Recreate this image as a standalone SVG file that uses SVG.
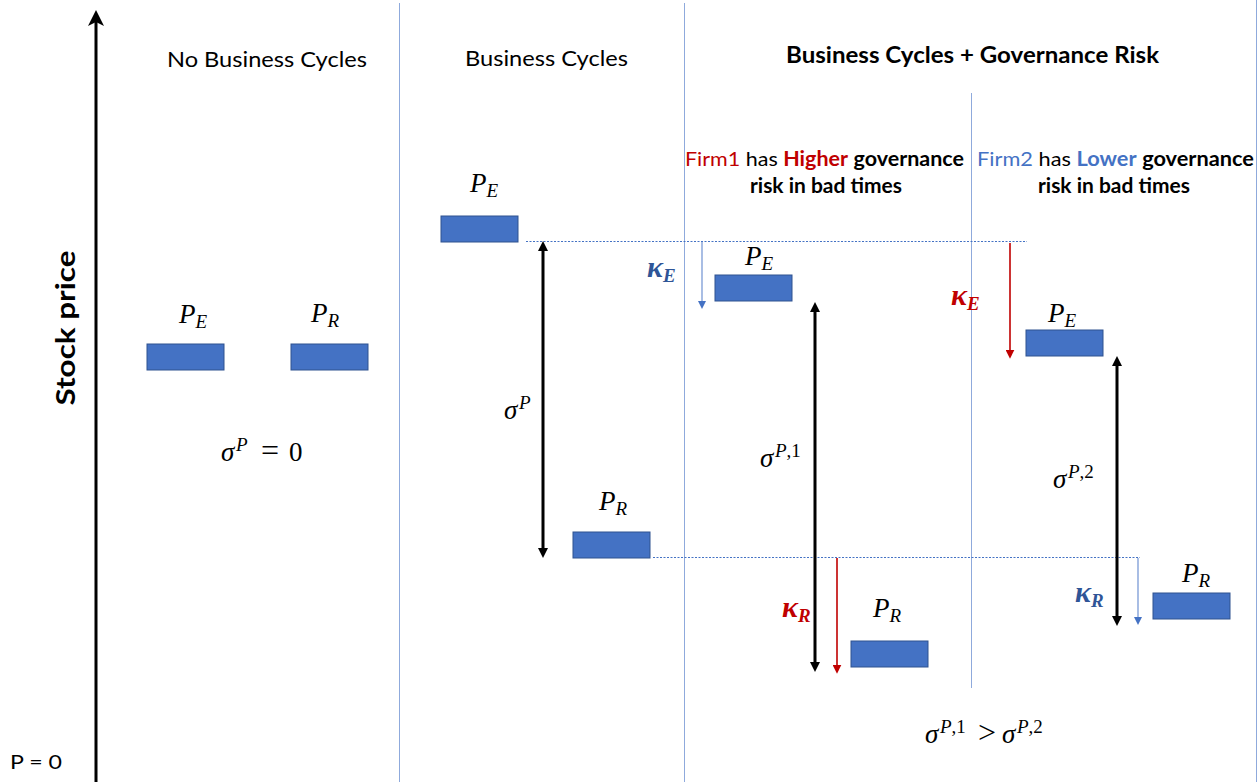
<svg xmlns="http://www.w3.org/2000/svg" width="1259" height="782" viewBox="0 0 1259 782">
<style>
.t{font-family:"Lato","Liberation Sans",sans-serif;fill:#000}
.h{font-size:22px}
.b{font-weight:bold}
.f{font-size:20px}
.m{font-family:"Liberation Serif","DejaVu Serif",serif;font-style:italic;font-size:27px;fill:#000}
.n{font-style:normal}
.s{font-size:19px}
.k{font-weight:bold;font-size:30px}
.red{fill:#C00000}
.dk{fill:#2F5597}
.lb{fill:#4472C4}
.bar{fill:#4472C4;stroke:#2F528F;stroke-width:1}
.sep{stroke:#8FAADC;stroke-width:1;fill:none}
.dot{stroke:#4472C4;stroke-width:1.2;stroke-dasharray:2 1.5;fill:none}
.thick{stroke:#000;stroke-width:3;fill:none}
.tb{stroke:#6F92D2;stroke-width:1.2;fill:none}
.tr{stroke:#C00000;stroke-width:1.6;fill:none}
</style>
<defs>
<marker id="ax" viewBox="0 0 16 16" refX="6" refY="8" markerWidth="16" markerHeight="16" markerUnits="userSpaceOnUse" orient="auto">
<path d="M0,0 L16,8 L0,16 L4,8 z" fill="#000"/>
</marker>
<marker id="ah" viewBox="0 0 10 10" refX="6" refY="5" markerWidth="10" markerHeight="10" markerUnits="userSpaceOnUse" orient="auto-start-reverse">
<path d="M0,0 L10,5 L0,10 z" fill="#000"/>
</marker>
<marker id="ab" viewBox="0 0 8 8" refX="3" refY="4" markerWidth="8" markerHeight="8" markerUnits="userSpaceOnUse" orient="auto">
<path d="M0,0 L8,4 L0,8 z" fill="#4472C4"/>
</marker>
<marker id="ar" viewBox="0 0 8 8" refX="3" refY="4" markerWidth="9" markerHeight="9" markerUnits="userSpaceOnUse" orient="auto">
<path d="M0,0 L8,4 L0,8 z" fill="#C00000"/>
</marker>
</defs>
<rect width="1259" height="782" fill="#fff"/>

<g id="frame">
<line class="sep" x1="399.5" y1="3" x2="399.5" y2="782"/>
<line class="sep" x1="684.5" y1="3" x2="684.5" y2="782"/>
<line class="sep" x1="971.5" y1="93" x2="971.5" y2="688"/>
<line class="sep" x1="1256.5" y1="0" x2="1256.5" y2="782"/>
<line id="yaxis" class="thick" x1="96" y1="782" x2="96" y2="20" marker-end="url(#ax)"/>
<text class="t b" x="0" y="0" font-size="26" transform="translate(75,328) rotate(-90)" text-anchor="middle" textLength="155" lengthAdjust="spacingAndGlyphs">Stock price</text>
<text class="t" x="10" y="769" font-size="19" textLength="52" lengthAdjust="spacingAndGlyphs">P = 0</text>
</g>

<g id="headers">
<text class="t h" x="167" y="67" textLength="200" lengthAdjust="spacingAndGlyphs">No Business Cycles</text>
<text class="t h" x="465" y="66" textLength="163" lengthAdjust="spacingAndGlyphs">Business Cycles</text>
<text class="t h b" x="786" y="63" textLength="373" lengthAdjust="spacingAndGlyphs">Business Cycles + Governance Risk</text>
<text class="t f" x="685" y="166" textLength="279" lengthAdjust="spacingAndGlyphs"><tspan class="red">Firm1</tspan> has <tspan class="b red">Higher</tspan> <tspan class="b">governance</tspan></text>
<text class="t f b" x="826" y="193" text-anchor="middle" textLength="152" lengthAdjust="spacingAndGlyphs">risk in bad times</text>
<text class="t f" x="977" y="166" textLength="277" lengthAdjust="spacingAndGlyphs"><tspan class="lb">Firm2</tspan> has <tspan class="b lb">Lower</tspan> <tspan class="b">governance</tspan></text>
<text class="t f b" x="1114" y="193" text-anchor="middle" textLength="152" lengthAdjust="spacingAndGlyphs">risk in bad times</text>
</g>

<g id="connectors">
<line class="dot" x1="526" y1="241.5" x2="1027" y2="241.5"/>
<line class="dot" x1="653" y1="557.5" x2="1140" y2="557.5"/>
<line class="thick" x1="543" y1="245" x2="543" y2="554" marker-start="url(#ah)" marker-end="url(#ah)"/>
<line class="thick" x1="815" y1="306" x2="815" y2="668" marker-start="url(#ah)" marker-end="url(#ah)"/>
<line class="thick" x1="1117" y1="360" x2="1117" y2="622" marker-start="url(#ah)" marker-end="url(#ah)"/>
<line class="tb" x1="702" y1="242" x2="702" y2="304" marker-end="url(#ab)"/>
<line class="tr" x1="1010" y1="243" x2="1010" y2="353" marker-end="url(#ar)"/>
<line class="tr" x1="837" y1="558" x2="837" y2="668" marker-end="url(#ar)"/>
<line class="tb" x1="1138" y1="558" x2="1138" y2="620" marker-end="url(#ab)"/>
</g>

<g id="noBC">
<rect class="bar" x="147" y="344" width="77" height="26"/>
<rect class="bar" x="291" y="344" width="77" height="26"/>
<text class="m" x="179" y="323">P<tspan class="s" dy="5">E</tspan></text>
<text class="m" x="311" y="322">P<tspan class="s" dy="5">R</tspan></text>
<text class="m" x="221" y="461">σ<tspan class="s" x="236" dy="-10">P</tspan><tspan class="n" x="261" dy="10" font-size="32">=</tspan><tspan class="n" x="289">0</tspan></text>
</g>

<g id="BC">
<rect class="bar" x="441" y="216" width="77" height="26"/>
<rect class="bar" x="573" y="532" width="77" height="26"/>
<text class="m" x="470" y="192">P<tspan class="s" dy="5">E</tspan></text>
<text class="m" x="599" y="510">P<tspan class="s" dy="5">R</tspan></text>
<text class="m" x="504" y="419">σ<tspan class="s" x="519" dy="-10">P</tspan></text>
</g>

<g id="firm1">
<rect class="bar" x="715" y="275" width="77" height="26"/>
<rect class="bar" x="851" y="641" width="77" height="26"/>
<text class="m" x="745" y="265">P<tspan class="s" dy="5">E</tspan></text>
<text class="m" x="873" y="617">P<tspan class="s" dy="5">R</tspan></text>
<text class="m k dk" x="647" y="277">κ<tspan class="s" dy="5">E</tspan></text>
<text class="m k red" x="782" y="617">κ<tspan class="s" dy="5">R</tspan></text>
<text class="m" x="760" y="467">σ<tspan class="s" x="775" dy="-10">P<tspan class="n">,1</tspan></tspan></text>
</g>

<g id="firm2">
<rect class="bar" x="1026" y="330" width="77" height="26"/>
<rect class="bar" x="1153" y="593" width="77" height="26"/>
<text class="m" x="1048" y="322">P<tspan class="s" dy="5">E</tspan></text>
<text class="m" x="1182" y="582">P<tspan class="s" dy="5">R</tspan></text>
<text class="m k red" x="951" y="305">κ<tspan class="s" dy="5">E</tspan></text>
<text class="m k dk" x="1075" y="602">κ<tspan class="s" dy="5">R</tspan></text>
<text class="m" x="1053" y="488">σ<tspan class="s" x="1068" dy="-10">P<tspan class="n">,2</tspan></tspan></text>
</g>

<g id="compare">
<text class="m" x="925" y="743">σ<tspan class="s" x="940" dy="-10">P<tspan class="n">,1</tspan></tspan><tspan class="n" x="978" dy="10" font-size="32">&gt;</tspan><tspan x="1002">σ</tspan><tspan class="s" x="1017" dy="-10">P<tspan class="n">,2</tspan></tspan></text>
</g>
</svg>
